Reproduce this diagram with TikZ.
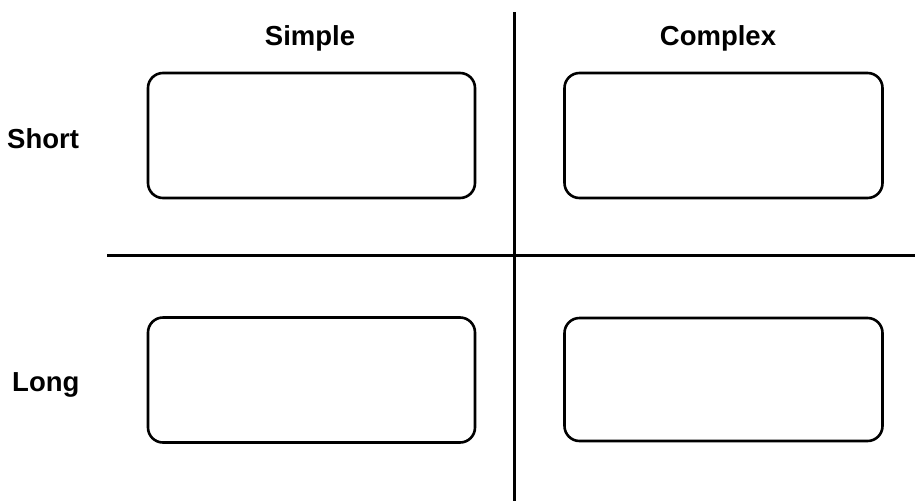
\documentclass[tikz,border=0pt]{standalone}
\usepackage{fontspec}
\setmainfont{Liberation Sans}
\begin{document}
\begin{tikzpicture}[x=1pt,y=-1pt,
  cell/.style={draw=black,line width=2.6pt,rounded corners=15pt,minimum width=327pt,minimum height=125pt,inner sep=0pt},
  axis/.style={draw=black,line width=2.6pt},
  head/.style={font=\bfseries\fontsize{27.5}{30}\selectfont,inner sep=0pt,anchor=base}]
\useasboundingbox[fill=white] (0,0) rectangle (915,501);
\node[cell] (ss) at (311.5,135.5) {};
\node[cell,minimum width=318pt] (sc) at (723.5,135.5) {};
\node[cell] (ls) at (311.5,380) {};
\node[cell,minimum width=318pt,minimum height=123pt] (lc) at (723.5,379.5) {};
\node[head] (simple) at (310,45) {Simple};
\node[head] (complex) at (718,45) {Complex};
\node[head,anchor=base west] (short) at (7,148) {Short};
\node[head,anchor=base west] (long) at (12,391) {Long};
\coordinate (vt) at (514.5,12);
\coordinate (vb) at (514.5,501);
\coordinate (hl) at (107,255.5);
\coordinate (hr) at (915,255.5);
\draw[axis] (vt) -- (vb);
\draw[axis] (hl) -- (hr);
\end{tikzpicture}
\end{document}
